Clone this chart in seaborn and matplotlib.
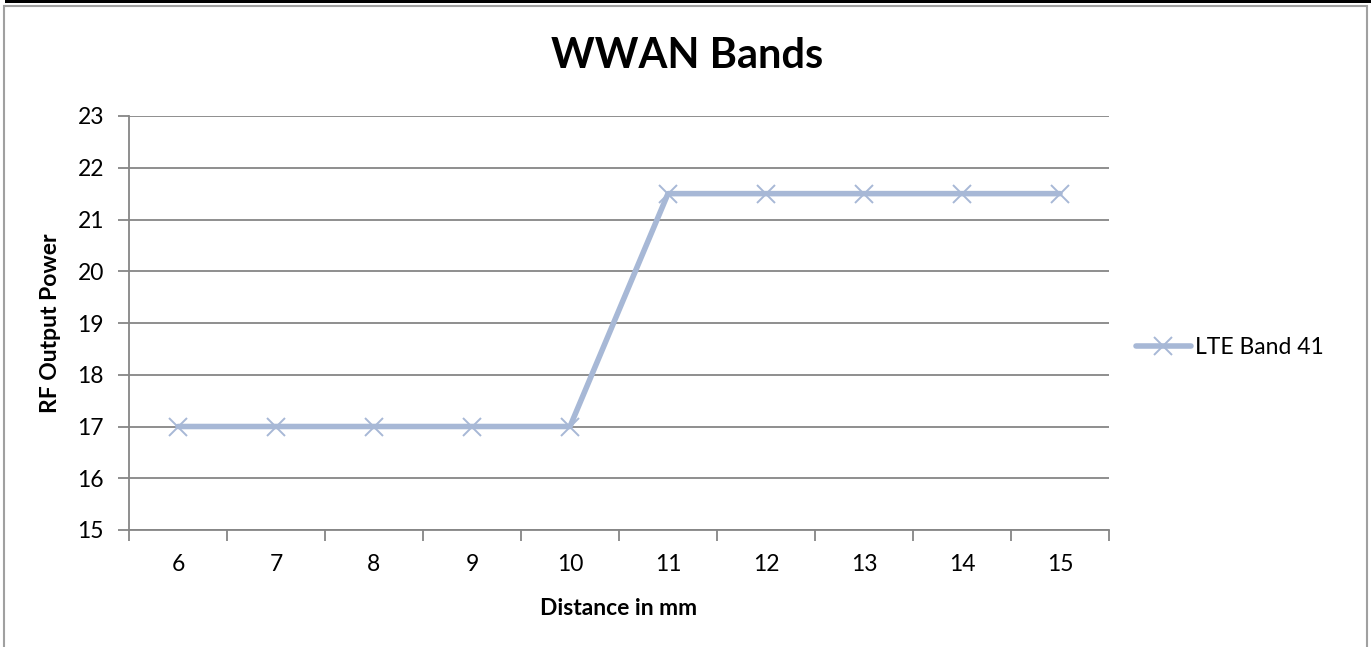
import matplotlib

matplotlib.use("Agg")
import matplotlib.pyplot as plt
import pandas as pd
import seaborn as sns
from matplotlib.lines import Line2D
from matplotlib.patches import Rectangle

distances = [6, 7, 8, 9, 10, 11, 12, 13, 14, 15]
rf_power = [17, 17, 17, 17, 17, 21.5, 21.5, 21.5, 21.5, 21.5]
series_name = "LTE Band 41"
y_ticks = [15, 16, 17, 18, 19, 20, 21, 22, 23]

LINE_COLOR = "#A7B8D6"
GRID_COLOR = "#868686"
FS = 16.5

sns.set_style("white")
plt.rcParams["font.family"] = ["Lato", "DejaVu Sans"]
plt.rcParams["text.color"] = "black"
plt.rcParams["axes.labelcolor"] = "black"
plt.rcParams["xtick.color"] = "black"
plt.rcParams["ytick.color"] = "black"

W, H = 1371, 647
fig = plt.figure(figsize=(W / 100, H / 100), dpi=100)
ax = fig.add_axes([129 / W, 1 - 530 / H, (1109 - 129) / W, (530 - 116) / H])

df = pd.DataFrame({"pos": range(len(distances)), "power": rf_power})
sns.lineplot(
    data=df, x="pos", y="power", ax=ax, color=LINE_COLOR, linewidth=4,
    marker="x", markersize=13, markeredgewidth=1.4, markeredgecolor=LINE_COLOR,
)

ax.set_xlim(-0.5, len(distances) - 0.5)
ax.set_ylim(y_ticks[0], y_ticks[-1])
ax.set_yticks(y_ticks)
ax.set_xticks(range(len(distances)))
ax.set_xticklabels([str(d) for d in distances])
ax.set_xticks([i - 0.5 for i in range(len(distances) + 1)], minor=True)
ax.tick_params(axis="x", which="major", length=0, pad=17, labelsize=FS, labelcolor="black")
ax.tick_params(axis="x", which="minor", length=8, width=1.3, color=GRID_COLOR, direction="out")
ax.tick_params(axis="y", length=8, width=1.3, color=GRID_COLOR, direction="out", pad=10,
               labelsize=FS, labelcolor="black")
ax.xaxis.set_ticks_position("bottom")
ax.yaxis.set_ticks_position("left")
ax.grid(axis="y", color=GRID_COLOR, linewidth=1.3)
ax.set_axisbelow(True)

for side in ["top", "right"]:
    ax.spines[side].set_visible(False)
for side in ["left", "bottom"]:
    ax.spines[side].set_color(GRID_COLOR)
    ax.spines[side].set_linewidth(1.3)

ax.set_xlabel("Distance in mm", fontsize=FS, fontweight="bold", labelpad=17)
ax.set_ylabel("RF Output Power", fontsize=FS, fontweight="bold", labelpad=12)
fig.text(687 / W, 1 - 56 / H, "WWAN Bands", ha="center", va="center",
         fontsize=30, fontweight="bold", color="black")

handle = Line2D([], [], color=LINE_COLOR, linewidth=4, marker="x", markersize=13,
                markeredgewidth=1.4)
fig.legend([handle], [series_name], loc="center left",
           bbox_to_anchor=(1115 / W, 1 - 348 / H), frameon=False, fontsize=FS,
           handlelength=2.4, handletextpad=0.2)

# chart frame
fig.patches.append(Rectangle((3.5 / W, -0.1), (1366.5 - 3.5) / W, 1.1 - 5.5 / H,
                             transform=fig.transFigure, fill=False,
                             edgecolor="#A0A0A0", linewidth=1.5))
fig.patches.append(Rectangle((5 / W, 1 - 3 / H), 1, 3 / H, transform=fig.transFigure,
                             facecolor="black", edgecolor="none"))

fig.savefig("out.png", dpi=100)
